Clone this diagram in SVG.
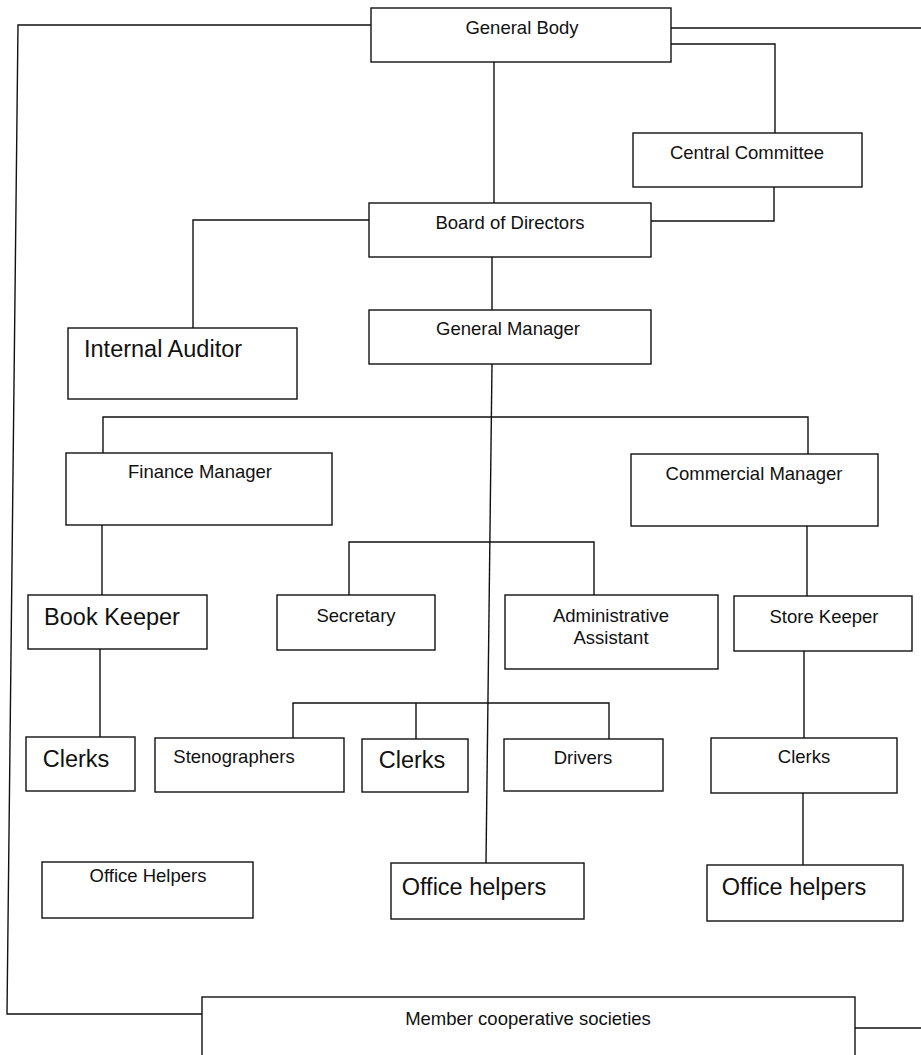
<svg xmlns="http://www.w3.org/2000/svg" width="921" height="1055" viewBox="0 0 921 1055">
<style>
.b{fill:#fff;stroke:#111;stroke-width:1.4}
.c{fill:none;stroke:#111;stroke-width:1.4}
text{font-family:"Liberation Sans",Arial,sans-serif;fill:#111;text-anchor:middle}
.s{font-size:18.5px}
.l{font-size:23.5px}
</style>
<rect width="921" height="1055" fill="#fff"/>
<g id="connectors">
<path class="c" d="M372,25 L18,25 L7,1014 L202,1014"/>
<path class="c" d="M671,28 L921,28"/>
<path class="c" d="M855,1028 L921,1028"/>
<path class="c" d="M671,44 L775,44 L775,133"/>
<path class="c" d="M494,62 L494,203"/>
<path class="c" d="M774,187 L774,221 L651,221"/>
<path class="c" d="M369,220 L193,220 L193,328"/>
<path class="c" d="M492,257 L492,310"/>
<path class="c" d="M492,364 L486,863"/>
<path class="c" d="M103,453 L103,417 L808,417 L808,454"/>
<path class="c" d="M102,525 L102,595"/>
<path class="c" d="M349,595 L349,542 L594,542 L594,595"/>
<path class="c" d="M807,526 L807,596"/>
<path class="c" d="M100,649 L100,737"/>
<path class="c" d="M804,651 L804,738"/>
<path class="c" d="M293,738 L293,703 L609,703 L609,739"/>
<path class="c" d="M416,703 L416,739"/>
<path class="c" d="M803,793 L803,865"/>
</g>
<g id="general-body"><rect class="b" x="371" y="8" width="300" height="54"/><text class="s" x="522" y="34">General Body</text></g>
<g id="central-committee"><rect class="b" x="633" y="133" width="229" height="54"/><text class="s" x="747" y="159">Central Committee</text></g>
<g id="board-of-directors"><rect class="b" x="369" y="203" width="282" height="54"/><text class="s" x="510" y="229">Board of Directors</text></g>
<g id="internal-auditor"><rect class="b" x="68" y="328" width="229" height="71"/><text class="l" x="84" y="357" style="text-anchor:start">Internal Auditor</text></g>
<g id="general-manager"><rect class="b" x="369" y="310" width="282" height="54"/><text class="s" x="508" y="335">General Manager</text></g>
<g id="finance-manager"><rect class="b" x="66" y="453" width="266" height="72"/><text class="s" x="200" y="478">Finance Manager</text></g>
<g id="commercial-manager"><rect class="b" x="631" y="454" width="247" height="72"/><text class="s" x="754" y="480">Commercial Manager</text></g>
<g id="book-keeper"><rect class="b" x="28" y="595" width="179" height="54"/><text class="l" x="112" y="625">Book Keeper</text></g>
<g id="secretary"><rect class="b" x="277" y="595" width="158" height="55"/><text class="s" x="356" y="622">Secretary</text></g>
<g id="administrative-assistant"><rect class="b" x="505" y="595" width="213" height="74"/><text class="s" x="611" y="622">Administrative</text><text class="s" x="611" y="644">Assistant</text></g>
<g id="store-keeper"><rect class="b" x="734" y="596" width="178" height="55"/><text class="s" x="824" y="623">Store Keeper</text></g>
<g id="clerks-finance"><rect class="b" x="26" y="737" width="109" height="54"/><text class="l" x="76" y="767">Clerks</text></g>
<g id="stenographers"><rect class="b" x="155" y="738" width="189" height="54"/><text class="s" x="234" y="763">Stenographers</text></g>
<g id="clerks-admin"><rect class="b" x="362" y="739" width="106" height="53"/><text class="l" x="412" y="768">Clerks</text></g>
<g id="drivers"><rect class="b" x="504" y="739" width="159" height="52"/><text class="s" x="583" y="764">Drivers</text></g>
<g id="clerks-commercial"><rect class="b" x="711" y="738" width="186" height="55"/><text class="s" x="804" y="763">Clerks</text></g>
<g id="office-helpers-finance"><rect class="b" x="42" y="862" width="211" height="56"/><text class="s" x="148" y="882">Office Helpers</text></g>
<g id="office-helpers-admin"><rect class="b" x="391" y="863" width="193" height="56"/><text class="l" x="474" y="895">Office helpers</text></g>
<g id="office-helpers-commercial"><rect class="b" x="707" y="865" width="196" height="56"/><text class="l" x="794" y="895">Office helpers</text></g>
<g id="member-cooperative-societies"><rect class="b" x="202" y="997" width="653" height="80"/><text class="s" x="528" y="1025">Member cooperative societies</text></g>
</svg>
